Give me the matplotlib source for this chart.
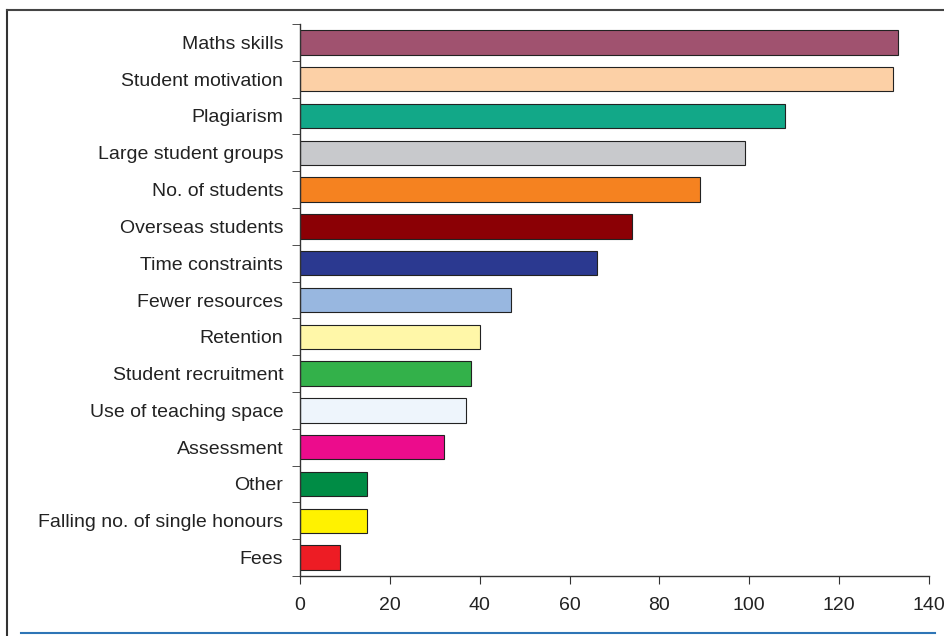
import matplotlib.pyplot as plt
from matplotlib.lines import Line2D

plt.rcParams["font.family"] = ["Liberation Sans", "DejaVu Sans"]

# data, top to bottom as drawn
categories = [
    "Maths skills", "Student motivation", "Plagiarism", "Large student groups",
    "No. of students", "Overseas students", "Time constraints", "Fewer resources",
    "Retention", "Student recruitment", "Use of teaching space", "Assessment",
    "Other", "Falling no. of single honours", "Fees",
]
values = [133, 132, 108, 99, 89, 74, 66, 47, 40, 38, 37, 32, 15, 15, 9]
colors = [
    "#A0526F", "#FCD0A6", "#12A888", "#C8C9CC", "#F58220", "#8B0005", "#2B3990",
    "#98B7E0", "#FFF7A8", "#33B14A", "#EEF5FC", "#EC0C8C", "#008C45", "#FFF200",
    "#ED1C24",
]
xticks = [0, 20, 40, 60, 80, 100, 120, 140]

fig = plt.figure(figsize=(9.45, 6.36), dpi=100)
ax = fig.add_axes([300 / 945, 1 - 576 / 636, 629 / 945, 552 / 636])

n = len(categories)
ypos = list(range(n))[::-1]
ax.barh(ypos, values, height=0.66, color=colors, edgecolor="#222222", linewidth=0.8)

ax.set_xlim(0, 140)
ax.set_ylim(-0.5, n - 0.5)
ax.set_xticks(xticks)
ax.set_xticklabels([str(t) for t in xticks], fontsize=14, color="#222222")
ax.set_yticks(ypos)
ax.set_yticklabels(categories, fontsize=14, color="#222222")
ax.tick_params(axis="y", length=0, pad=12)
ax.tick_params(axis="x", direction="out", length=6, color="#333333", pad=9)
# category separator ticks on the left spine
ax.set_yticks([y + 0.5 for y in range(-1, n)], minor=True)
ax.tick_params(axis="y", which="minor", direction="out", length=6, color="#333333")

for side in ["top", "right"]:
    ax.spines[side].set_visible(False)
for side in ["left", "bottom"]:
    ax.spines[side].set_color("#333333")
    ax.spines[side].set_linewidth(1.0)

# outer frame of the figure
W, H = 945, 636
fig.add_artist(Line2D([7.5 / W, 7.5 / W], [0, 1 - 9.5 / H], transform=fig.transFigure,
                      color="#333333", lw=1.5))
fig.add_artist(Line2D([7.5 / W, 1], [1 - 9.5 / H, 1 - 9.5 / H], transform=fig.transFigure,
                      color="#444444", lw=1.5))
fig.add_artist(Line2D([21 / W, 935 / W], [1 - 633 / H, 1 - 633 / H], transform=fig.transFigure,
                      color="#2E75B6", lw=1.5))

fig.savefig("out.png", dpi=100)
